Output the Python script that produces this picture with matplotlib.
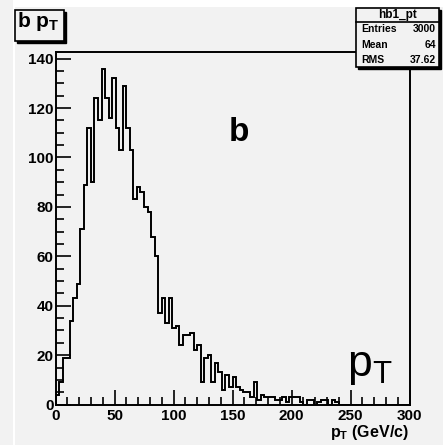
import numpy as np
import matplotlib.pyplot as plt
from matplotlib.patches import Rectangle

plt.rcParams['font.family'] = ['Liberation Sans', 'DejaVu Sans']
plt.rcParams['mathtext.fontset'] = 'custom'
plt.rcParams['mathtext.rm'] = 'Liberation Sans'
plt.rcParams['mathtext.bf'] = 'Liberation Sans:bold'
plt.rcParams['mathtext.it'] = 'Liberation Sans:italic'

# hb1_pt : 100 bins, 0 - 300 GeV/c
n_bins = 100
pt_min, pt_max = 0, 300
counts = [
    4, 9, 19, 19, 34, 43, 49, 71, 89, 112,
    90, 124, 115, 136, 124, 116, 132, 112, 103, 129,
    112, 103, 83, 88, 86, 80, 78, 68, 60, 37,
    43, 33, 43, 31, 32, 24, 28, 28, 29, 22,
    24, 9, 19, 20, 9, 17, 13, 6, 12, 7,
    11, 7, 6, 5, 5, 3, 9, 2, 4, 3,
    3, 3, 2, 2, 3, 1, 3, 3, 3, 1,
    0, 2, 2, 0, 1, 2, 2, 0, 2, 1,
    0, 0, 0, 0, 0, 0, 0, 0, 0, 0,
    0, 0, 0, 0, 0, 0, 0, 0, 0, 0,
]
stat_names = ["Entries", "Mean", "RMS"]
stat_values = ["3000", "64", "37.62"]
hist_name = "hb1_pt"

W, H = 443, 445
bg = '#f2f2f2'

def fx(px):
    return px / W

def fy(py):
    return 1 - py / H

fig = plt.figure(figsize=(W / 100, H / 100), dpi=100, facecolor=bg)

# light border of the canvas
fig.patches.append(Rectangle((fx(13), 0), 2 / W, fy(7), transform=fig.transFigure,
                             facecolor='white', edgecolor='none'))
fig.patches.append(Rectangle((fx(13), fy(7)), 1, 7 / H, transform=fig.transFigure,
                             facecolor='white', edgecolor='none'))

ax = fig.add_axes([fx(55.5), fy(404.6), (409.5 - 55.5) / W, (404.6 - 51.7) / H])
ax.set_facecolor(bg)

edges = np.linspace(pt_min, pt_max, n_bins + 1)
ax.stairs(counts, edges, color='black', lw=1.4, baseline=0)

ax.set_xlim(pt_min, pt_max)
ax.set_ylim(0, 1.05 * max(counts))
ax.set_xticks(np.arange(0, 301, 50))
ax.set_xticks(np.arange(0, 301, 10), minor=True)
ax.set_yticks(np.arange(0, 141, 20))
ax.set_yticks(np.arange(0, 141, 5), minor=True)
ax.tick_params(which='both', direction='in', top=False, right=False, width=1.2)
ax.tick_params(which='major', length=11)
ax.tick_params(which='minor', length=6)
ax.tick_params(axis='y', pad=1.5)
ax.tick_params(axis='x', pad=3.5)
for lab in ax.get_xticklabels() + ax.get_yticklabels():
    lab.set_fontsize(11)
    lab.set_fontweight('bold')
for s in ax.spines.values():
    s.set_linewidth(1.4)

fig.text(fx(408.5), fy(436.5), r"$\mathbf{p}_\mathbf{T}$ (GeV/c)", fontsize=11.5,
         fontweight='bold', ha='right', va='baseline')

ax.text(0.518, 0.77, "b", transform=ax.transAxes, fontsize=24, fontweight='bold',
        ha='center', va='center')
ax.text(0.824, 0.08, r"$\mathrm{p}_\mathrm{T}$", transform=ax.transAxes, fontsize=32,
        ha='left', va='baseline')

# boxes with a drop shadow
def box(x0, y0, x1, y1):
    fig.patches.append(Rectangle((fx(x0 + 2), fy(y1 + 2)), (x1 - x0) / W, (y1 - y0) / H,
                                 transform=fig.transFigure, facecolor='black',
                                 edgecolor='black', lw=1))
    fig.patches.append(Rectangle((fx(x0), fy(y1)), (x1 - x0) / W, (y1 - y0) / H,
                                 transform=fig.transFigure, facecolor=bg,
                                 edgecolor='black', lw=1.2))

box(15, 10, 64, 41)
fig.text(fx(17), fy(27), r"b $\mathbf{p}_\mathbf{T}$", fontsize=15, fontweight='bold',
         ha='left', va='baseline')

# statistics box
box(356, 8, 439, 67)
fig.lines.append(plt.Line2D([fx(356), fx(439)], [fy(21.5), fy(21.5)],
                            transform=fig.transFigure, color='black', lw=1.2))
fig.text(fx(397.5), fy(18), hist_name, fontsize=8.5, fontweight='bold',
         ha='center', va='baseline')
for i, (name, val) in enumerate(zip(stat_names, stat_values)):
    yy = fy(29 + i * 15.5)
    fig.text(fx(361), yy, name, fontsize=7.5, fontweight='bold', ha='left', va='center')
    fig.text(fx(436), yy, val, fontsize=7.5, fontweight='bold', ha='right', va='center')

fig.savefig("out.png", dpi=100, facecolor=bg)
